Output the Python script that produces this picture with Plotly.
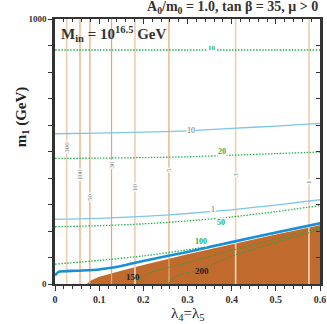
import plotly.graph_objects as go

# lambda_4 = lambda_5 grid and m_1 values (GeV)
lam = [0.0, 0.1, 0.2, 0.3, 0.4, 0.5, 0.6]

blue10_m1 = [567, 569, 573, 578, 587, 596, 606]
blue1_m1 = [244, 248, 255, 266, 280, 298, 318]

green10_m1 = [883, 883, 883, 883, 883, 883, 883]
green20_m1 = [474, 475, 477, 480, 486, 492, 498]
green50_m1 = [216, 220, 227, 238, 253, 273, 296]
green100_m1 = [75, 89, 106, 129, 158, 192, 230]

thick_lam = [0.0, 0.008, 0.05, 0.1, 0.15, 0.2, 0.3, 0.4, 0.5, 0.6]
thick_m1 = [32, 46, 50, 55, 68, 87, 121, 158, 194, 229]

brown_lam = [0.072, 0.08, 0.09, 0.1, 0.15, 0.2, 0.3, 0.4, 0.5, 0.6]
brown_m1 = [0, 12, 20, 27, 50, 72, 112, 150, 187, 222]

g150_lam = [0.185, 0.19, 0.2, 0.22, 0.25, 0.3, 0.4, 0.5, 0.6]
g150_m1 = [0, 12, 28, 45, 60, 80, 127, 170, 212]
g200_lam = [0.257, 0.262, 0.27, 0.29, 0.33, 0.4, 0.5, 0.6]
g200_m1 = [0, 12, 25, 38, 55, 105, 157, 205]

# vertical contours (constant lambda)
vert_lam = [0.0265, 0.0566, 0.079, 0.128, 0.181, 0.258, 0.409, 0.575]
vert_labels = ["300", "100", "50", "30", "10", "5", "3", "1"]
vert_label_m1 = [517, 411, 328, 449, 366, 430, 411, 385]
vert_light = [True, False, False, False, True, False, True, True]

SERIF = "Liberation Serif"
ORANGE = "#e6a670"
ORANGE_LT = "#f0cfb2"
BROWN = "#c06a2e"
SKY = "#7cc6ea"
BLUE = "#1a8ed6"
GREEN = "#22b34f"
DOT = "1.5px,1.5px"

fig = go.Figure()

# excluded region
fig.add_trace(go.Scatter(x=brown_lam + [0.6], y=brown_m1 + [0], fill="toself",
                         fillcolor=BROWN, line=dict(color=BROWN, width=0),
                         mode="lines", hoverinfo="skip"))

for v, light in zip(vert_lam, vert_light):
    fig.add_trace(go.Scatter(x=[v, v], y=[0, 1000], mode="lines",
                             line=dict(color=ORANGE_LT if light else ORANGE,
                                       width=1.7 if light else 1.2),
                             hoverinfo="skip"))

def line(x, y, color, width, dash="solid"):
    fig.add_trace(go.Scatter(x=x, y=y, mode="lines", hoverinfo="skip",
                             line=dict(color=color, width=width, dash=dash,
                                       shape="spline", smoothing=0.6)))

line(lam, blue10_m1, SKY, 1.3)
line(lam, blue1_m1, SKY, 1.3)
line(lam, green10_m1, GREEN, 1.3, DOT)
line(lam, green20_m1, GREEN, 1.3, DOT)
line(lam, green50_m1, GREEN, 1.3, DOT)
line(lam, green100_m1, GREEN, 1.3, DOT)
line(g150_lam, g150_m1, "#3a9a3a", 1.1, DOT)
line(g200_lam, g200_m1, "#3a9a3a", 1.1, DOT)
line(thick_lam, thick_m1, BLUE, 2.6)

# dummy trace so top/right axes get drawn
fig.add_trace(go.Scatter(x=[0], y=[0], xaxis="x2", yaxis="y2", mode="markers",
                         marker=dict(opacity=0), hoverinfo="skip"))

def label(x, y, text, color, size=7, angle=0, bg="white"):
    fig.add_annotation(x=x, y=y, text=text, showarrow=False, textangle=angle,
                       font=dict(family=SERIF, size=size, color=color),
                       bgcolor=bg, borderpad=0)

for v, t, m in zip(vert_lam, vert_labels, vert_label_m1):
    label(v, m, t, "#777777", 7, -90)

label(0.355, 890, "<b>10</b>", GREEN, 7)
label(0.307, 578, "10", "#666666", 8)
label(0.378, 500, "<b>20</b>", GREEN, 8)
label(0.357, 281, "1", "#666666", 8)
label(0.375, 233, "<b>50</b>", GREEN, 8)
label(0.330, 160, "<b>100</b>", GREEN, 8)
label(0.177, 27, "<b>150</b>", "#222222", 9, 0, "rgba(0,0,0,0)")
label(0.333, 48, "<b>200</b>", "#222222", 9, 0, "rgba(0,0,0,0)")

fig.add_annotation(x=0.01, y=945, xanchor="left", showarrow=False,
                   text="<b>M<sub>in</sub> = 10<sup>16.5</sup> GeV</b>",
                   font=dict(family=SERIF, size=15, color="#333333"))

fig.add_annotation(x=1.0, y=1.0, xref="paper", yref="paper", xanchor="right",
                   yanchor="bottom", yshift=1, showarrow=False,
                   text="<b>A<sub>0</sub>/m<sub>0</sub> = 1.0, tan \u03b2 = 35, \u03bc > 0</b>",
                   font=dict(family=SERIF, size=14, color="#333333"))

fig.add_annotation(x=-0.165, y=0.63, xref="paper", yref="paper", showarrow=False,
                   textangle=-90, text="<b>m<sub>1</sub> (GeV)</b>",
                   font=dict(family=SERIF, size=15, color="#222222"))

fig.add_annotation(x=0.5, y=-0.113, xref="paper", yref="paper", yanchor="middle",
                   showarrow=False, text="\u03bb<sub>4</sub>=\u03bb<sub>5</sub>",
                   font=dict(family=SERIF, size=15, color="#222222"))

xticks = [0, 0.1, 0.2, 0.3, 0.4, 0.5, 0.6]
xtext = ["<b>0</b>", "<b>0.1</b>", "<b>0.2</b>", "<b>0.3</b>", "<b>0.4</b>",
         "<b>0.5</b>", "<b>0.6</b>"]
yticks = [0, 1000]
ytext = ["<b>0</b>", "<b>1000</b>"]

fig.update_layout(
    width=327, height=324,
    margin=dict(l=55, r=7, t=19, b=40),
    plot_bgcolor="white", paper_bgcolor="white",
    showlegend=False,
    xaxis=dict(range=[0, 0.6], tickvals=xticks, ticktext=xtext, automargin=False,
               ticks="outside", ticklen=5, tickwidth=1, tickcolor="#333",
               minor=dict(dtick=0.02, tick0=0, ticks="outside", ticklen=3,
                          tickcolor="#333", showgrid=False),
               showgrid=False, zeroline=False, showline=True, linewidth=2,
               linecolor="#333", mirror=True,
               tickfont=dict(family=SERIF, size=10, color="#333")),
    yaxis=dict(range=[0, 1000], tickvals=yticks, ticktext=ytext, automargin=False,
               ticks="outside", ticklen=4, tickwidth=1, tickcolor="#333",
               minor=dict(dtick=100, tick0=0, ticks="outside", ticklen=4,
                          tickcolor="#333", showgrid=False),
               showgrid=False, zeroline=False, showline=True, linewidth=2.5,
               linecolor="#333", mirror=True,
               tickfont=dict(family=SERIF, size=9, color="#333")),
    xaxis2=dict(range=[0, 0.6], overlaying="x", side="top", showticklabels=False,
                tickvals=xticks, ticks="inside", ticklen=5, tickcolor="#333",
                automargin=False,
                minor=dict(dtick=0.02, tick0=0, ticks="inside", ticklen=3,
                           tickcolor="#333", showgrid=False),
                showgrid=False, zeroline=False, showline=False),
    yaxis2=dict(range=[0, 1000], overlaying="y", side="right", showticklabels=False,
                tickvals=yticks, ticks="inside", ticklen=4, tickcolor="#333",
                automargin=False,
                minor=dict(dtick=100, tick0=0, ticks="inside", ticklen=4,
                           tickcolor="#333", showgrid=False),
                showgrid=False, zeroline=False, showline=False),
)

fig.write_html("out.html", config={"displayModeBar": False},
               post_script="document.body.style.margin='0';"
                           "document.body.style.overflow='hidden';")
